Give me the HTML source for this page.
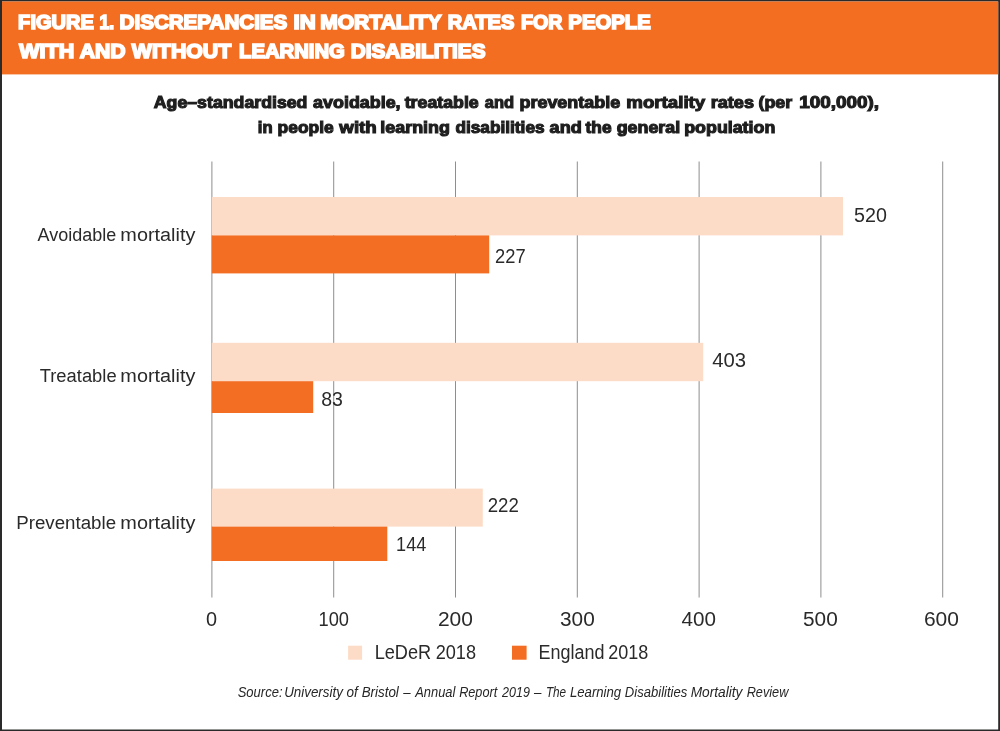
<!DOCTYPE html>
<html lang="en">
<head>
<meta charset="utf-8">
<title>Figure 1. Discrepancies in mortality rates for people with and without learning disabilities</title>
<style>
html,body{margin:0;padding:0;background:#fff;}
body{width:1000px;height:731px;overflow:hidden;}
svg{display:block;font-family:"Liberation Sans",Arial,Helvetica,sans-serif;}
</style>
</head>
<body>
<svg width="1000" height="731" viewBox="0 0 1000 731">
<rect x="0" y="0" width="1000" height="731" fill="#2a2a2a"/>
<rect x="2" y="1.5" width="996.2" height="728" fill="#ffffff"/>
<rect x="2" y="1.5" width="996.2" height="72.9" fill="#F36E21"/>
<rect x="211.40" y="161.5" width="1" height="436" fill="#8e8e8e"/><rect x="333.20" y="161.5" width="1" height="436" fill="#8e8e8e"/><rect x="455.00" y="161.5" width="1" height="436" fill="#8e8e8e"/><rect x="576.80" y="161.5" width="1" height="436" fill="#8e8e8e"/><rect x="698.60" y="161.5" width="1" height="436" fill="#8e8e8e"/><rect x="820.40" y="161.5" width="1" height="436" fill="#8e8e8e"/><rect x="942.20" y="161.5" width="1" height="436" fill="#8e8e8e"/>
<rect x="211.8" y="197" width="631.20" height="38.40" fill="#FDDCC7"/><rect x="211.8" y="235.4" width="277.40" height="38.00" fill="#F36D23"/><rect x="211.8" y="342.8" width="491.40" height="38.40" fill="#FDDCC7"/><rect x="211.8" y="381.2" width="101.40" height="31.80" fill="#F36D23"/><rect x="211.8" y="488.6" width="271.00" height="38.00" fill="#FDDCC7"/><rect x="211.8" y="526.6" width="175.50" height="34.40" fill="#F36D23"/>
<rect x="348.1" y="645.7" width="14" height="14" fill="#FDDCC7"/><rect x="512" y="645.7" width="14.6" height="14" fill="#F36D23"/>
<g font-size="20.36" fill="#ffffff" font-weight="bold" stroke="#ffffff" stroke-width="1.7"><text transform="translate(18.12 28.65) scale(0.9873 1)">FIGURE </text><text transform="translate(99.52 28.65) scale(0.8632 1)">1. </text><text transform="translate(119.59 28.65) scale(1.0110 1)">DISCREPANCIES </text><text transform="translate(293.49 28.65) scale(1.0873 1)">IN </text><text transform="translate(320.16 28.65) scale(1.0355 1)">MORTALITY </text><text transform="translate(447.72 28.65) scale(0.9863 1)">RATES </text><text transform="translate(520.89 28.65) scale(0.9646 1)">FOR </text><text transform="translate(568.35 28.65) scale(0.9981 1)">PEOPLE </text></g>
<g font-size="20.36" fill="#ffffff" font-weight="bold" stroke="#ffffff" stroke-width="1.7"><text transform="translate(19.35 57.75) scale(1.0552 1)">WITH </text><text transform="translate(79.73 57.75) scale(1.0409 1)">AND </text><text transform="translate(131.85 57.75) scale(1.0470 1)">WITHOUT </text><text transform="translate(239.01 57.75) scale(0.9957 1)">LEARNING </text><text transform="translate(350.83 57.75) scale(1.0184 1)">DISABILITIES </text></g>
<g font-size="16.74" fill="#1e1e1e" font-weight="bold" stroke="#1e1e1e" stroke-width="1.1"><text transform="translate(153.77 108.10) scale(1.0596 1)">Age–standardised </text><text transform="translate(313.12 108.10) scale(1.0692 1)">avoidable, </text><text transform="translate(404.68 108.10) scale(1.0616 1)">treatable </text><text transform="translate(484.81 108.10) scale(0.9876 1)">and </text><text transform="translate(519.48 108.10) scale(1.0721 1)">preventable </text><text transform="translate(626.33 108.10) scale(1.1165 1)">mortality </text><text transform="translate(710.72 108.10) scale(1.0824 1)">rates </text><text transform="translate(758.50 108.10) scale(1.0618 1)">(per </text><text transform="translate(799.17 108.10) scale(1.1299 1)">100,000), </text></g>
<g font-size="16.74" fill="#1e1e1e" font-weight="bold" stroke="#1e1e1e" stroke-width="1.1"><text transform="translate(257.81 132.70) scale(0.9920 1)">in </text><text transform="translate(277.61 132.70) scale(1.0392 1)">people </text><text transform="translate(339.30 132.70) scale(1.1200 1)">with </text><text transform="translate(380.21 132.70) scale(1.0725 1)">learning </text><text transform="translate(455.38 132.70) scale(1.0318 1)">disabilities </text><text transform="translate(549.61 132.70) scale(1.0814 1)">and </text><text transform="translate(585.54 132.70) scale(1.0371 1)">the </text><text transform="translate(616.65 132.70) scale(1.0678 1)">general </text><text transform="translate(684.24 132.70) scale(1.0647 1)">population </text></g>
<g font-size="19.2" fill="#2a2a2a"><text transform="translate(37.50 240.90) scale(0.9369 1)">Avoidable </text><text transform="translate(120.36 240.90) scale(1.0337 1)">mortality </text></g>
<g font-size="19.2" fill="#2a2a2a"><text transform="translate(39.72 382.30) scale(0.9570 1)">Treatable </text><text transform="translate(120.36 382.30) scale(1.0337 1)">mortality </text></g>
<g font-size="19.2" fill="#2a2a2a"><text transform="translate(16.19 529.10) scale(0.9751 1)">Preventable </text><text transform="translate(120.35 529.10) scale(1.0365 1)">mortality </text></g>
<g font-size="19.57" fill="#2a2a2a"><text transform="translate(854.05 221.80) scale(1.0065 1)">520 </text></g>
<g font-size="19.57" fill="#2a2a2a"><text transform="translate(495.06 262.60) scale(0.9366 1)">227 </text></g>
<g font-size="19.57" fill="#2a2a2a"><text transform="translate(712.28 366.80) scale(1.0368 1)">403 </text></g>
<g font-size="19.57" fill="#2a2a2a"><text transform="translate(321.25 406.40) scale(0.9975 1)">83 </text></g>
<g font-size="19.57" fill="#2a2a2a"><text transform="translate(487.75 511.90) scale(0.9528 1)">222 </text></g>
<g font-size="19.57" fill="#2a2a2a"><text transform="translate(396.11 550.90) scale(0.9246 1)">144 </text></g>
<g font-size="19.86" fill="#2a2a2a"><text transform="translate(206.05 625.50) scale(1.0000 1)">0 </text></g>
<g font-size="19.86" fill="#2a2a2a"><text transform="translate(318.52 625.50) scale(0.9203 1)">100 </text></g>
<g font-size="19.86" fill="#2a2a2a"><text transform="translate(437.94 625.50) scale(1.0560 1)">200 </text></g>
<g font-size="19.86" fill="#2a2a2a"><text transform="translate(560.01 625.50) scale(1.0476 1)">300 </text></g>
<g font-size="19.86" fill="#2a2a2a"><text transform="translate(681.48 625.50) scale(1.0394 1)">400 </text></g>
<g font-size="19.86" fill="#2a2a2a"><text transform="translate(803.01 625.50) scale(1.0476 1)">500 </text></g>
<g font-size="19.86" fill="#2a2a2a"><text transform="translate(923.94 625.50) scale(1.0560 1)">600 </text></g>
<g font-size="19.42" fill="#2a2a2a"><text transform="translate(374.70 658.70) scale(0.9345 1)">LeDeR </text><text transform="translate(435.67 658.70) scale(0.9333 1)">2018 </text></g>
<g font-size="19.42" fill="#2a2a2a"><text transform="translate(538.41 658.70) scale(0.9263 1)">England </text><text transform="translate(608.32 658.70) scale(0.9273 1)">2018 </text></g>
<g font-size="14.49" fill="#262626" font-style="italic"><text transform="translate(237.65 696.50) scale(0.8985 1)">Source: </text><text transform="translate(284.18 696.50) scale(0.9233 1)">University </text><text transform="translate(346.53 696.50) scale(0.9333 1)">of </text><text transform="translate(361.64 696.50) scale(0.9250 1)">Bristol </text><text transform="translate(403.30 696.50) scale(0.9125 1)">– </text><text transform="translate(415.17 696.50) scale(0.8908 1)">Annual </text><text transform="translate(459.16 696.50) scale(0.8759 1)">Report </text><text transform="translate(502.10 696.50) scale(0.8625 1)">2019 </text><text transform="translate(533.90 696.50) scale(0.9250 1)">– </text><text transform="translate(545.88 696.50) scale(0.8129 1)">The </text><text transform="translate(569.95 696.50) scale(0.9094 1)">Learning </text><text transform="translate(624.85 696.50) scale(0.9026 1)">Disabilities </text><text transform="translate(690.63 696.50) scale(0.9473 1)">Mortality </text><text transform="translate(746.66 696.50) scale(0.8796 1)">Review </text></g>
</svg>
</body>
</html>
